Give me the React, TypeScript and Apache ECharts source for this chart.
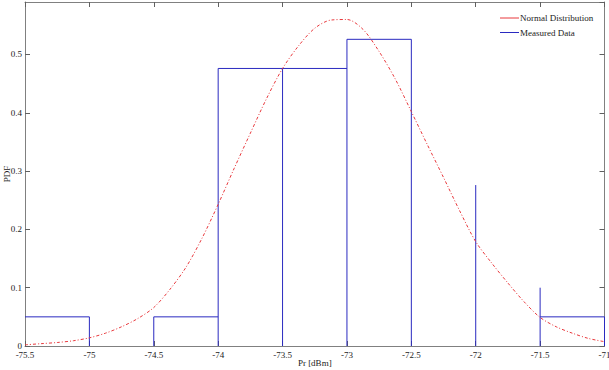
import React, { useEffect, useRef } from 'react';
import * as echarts from 'echarts';

// Normal distribution curve
const curveX = [-75.5, -75.375, -75.25, -75.125, -75.0, -74.875, -74.75, -74.625, -74.5, -74.375, -74.25, -74.125, -74.0, -73.875, -73.75, -73.625, -73.5, -73.375, -73.25, -73.125, -73.0, -72.875, -72.75, -72.625, -72.5, -72.375, -72.25, -72.125, -72.0, -71.875, -71.75, -71.625, -71.5, -71.375, -71.25, -71.125, -71.0];
const curveY = [0.002, 0.004, 0.006, 0.009, 0.014, 0.022, 0.033, 0.047, 0.066, 0.097, 0.135, 0.185, 0.243, 0.305, 0.365, 0.424, 0.476, 0.515, 0.545, 0.559, 0.56, 0.543, 0.505, 0.458, 0.402, 0.345, 0.289, 0.232, 0.179, 0.142, 0.108, 0.076, 0.049, 0.033, 0.022, 0.013, 0.0074];

// Measured data outline (histogram bars and spikes); null breaks the outline into strokes
const measuredX = [-75.5, -75, -75, -75, -74.5, -74.5, -74, -74, -74, -74, -73, -73, -73.5, -73.5, -73.5, -73, -73, -72.5, -72.5, -72.5, -72, -72, -72, -71.5, -71.5, -71.5, -71.5, -71, -71];
const measuredY = [0.05, 0.05, 0, null, 0, 0.05, 0.05, null, 0, 0.476, 0.476, null, 0, 0.476, null, 0, 0.526, 0.526, 0, null, 0, 0.276, null, 0, 0.1, null, 0.05, 0.05, 0];

const seriesNames = ['Normal Distribution', 'Measured Data'];
const seriesColors = ['#e8383c', '#2a2ac0'];
const xAxisName = 'Pr [dBm]';
const yAxisName = 'PDF';

const FONT = 'Liberation Serif';

export default function App() {
  const ref = useRef<HTMLDivElement>(null);
  useEffect(() => {
    const chart = echarts.init(ref.current!, undefined, { renderer: 'svg' });
    const axisLine = { show: true, onZero: false, lineStyle: { color: '#808080', width: 1 } };
    const axisTick = { show: true, inside: true, length: 5, lineStyle: { color: '#606060', width: 1 } };
    const labelStyle = { color: '#222', fontFamily: FONT, fontSize: 9 };
    const xBase = { type: 'value', min: -75.5, max: -71, interval: 0.5, splitLine: { show: false }, axisLine, axisTick };
    const yBase = { type: 'value', min: 0, max: 0.59, interval: 0.1, splitLine: { show: false }, axisLine, axisTick };
    const legendGraphics: any[] = [];
    seriesNames.forEach((name, i) => {
      const y = 18 + i * 14.5;
      legendGraphics.push({
        type: 'line',
        shape: { x1: 500, y1: y, x2: 519, y2: y },
        style: { stroke: seriesColors[i], lineWidth: 1 },
      });
      legendGraphics.push({
        type: 'text',
        x: 520,
        y,
        style: { text: name, fill: '#222', font: `9px "${FONT}"`, textVerticalAlign: 'middle', verticalAlign: 'middle' },
      });
    });
    chart.setOption({
      animation: false,
      backgroundColor: '#fff',
      grid: { left: 25, right: 4.5, top: 2, bottom: 24, containLabel: false, outerBoundsMode: 'none' },
      graphic: legendGraphics,
      xAxis: [
        {
          ...xBase,
          position: 'bottom',
          axisLabel: { ...labelStyle, margin: 4 },
          name: xAxisName,
          nameLocation: 'middle',
          nameGap: 17,
          nameMoveOverlap: false,
          nameTextStyle: { ...labelStyle, verticalAlign: 'middle' },
        },
        { ...xBase, position: 'top', axisLabel: { show: false } },
      ],
      yAxis: [
        {
          ...yBase,
          position: 'left',
          axisLabel: { ...labelStyle, margin: 3, showMaxLabel: false },
          name: yAxisName,
          nameLocation: 'middle',
          nameGap: 18,
          nameMoveOverlap: false,
          nameTextStyle: { ...labelStyle, verticalAlign: 'middle' },
        },
        { ...yBase, position: 'right', axisLabel: { show: false } },
      ],
      series: [
        {
          name: seriesNames[0],
          type: 'line',
          xAxisIndex: 0,
          yAxisIndex: 0,
          data: curveX.map((x, i) => [x, curveY[i]]),
          smooth: 0.3,
          symbol: 'none',
          lineStyle: { color: seriesColors[0], width: 1, type: [3, 2, 1, 2] },
          itemStyle: { color: seriesColors[0] },
          z: 3,
        },
        {
          name: seriesNames[1],
          type: 'line',
          xAxisIndex: 0,
          yAxisIndex: 0,
          data: measuredX.map((x, i) => [x, measuredY[i]]),
          connectNulls: false,
          symbol: 'none',
          lineStyle: { color: seriesColors[1], width: 1 },
          itemStyle: { color: seriesColors[1] },
          z: 2,
        },
      ],
    });
    return () => chart.dispose();
  }, []);
  return (
    <div
      ref={ref}
      style={{ position: 'fixed', left: 0, top: 0, width: 609, height: 370, background: '#fff' }}
    />
  );
}
